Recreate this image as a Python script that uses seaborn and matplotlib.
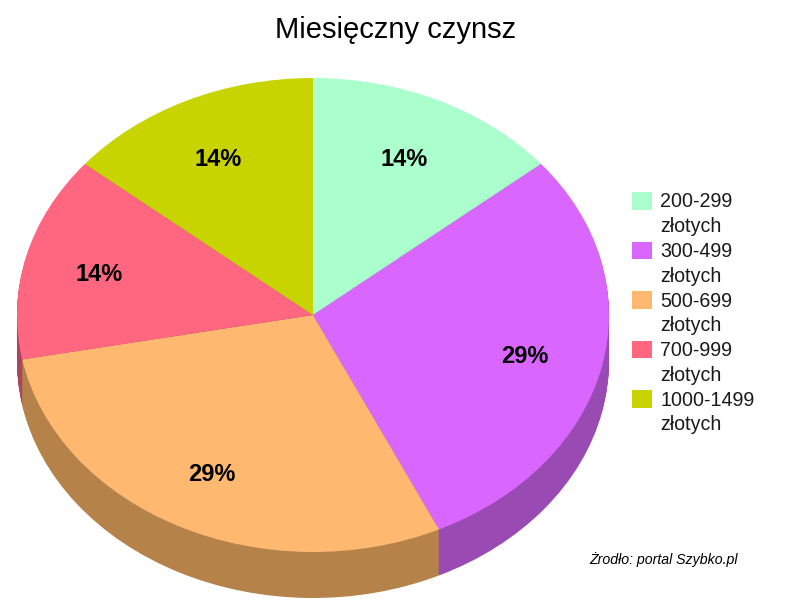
import matplotlib
matplotlib.use('Agg')
import matplotlib.pyplot as plt
from matplotlib.patches import Patch
import numpy as np
import seaborn as sns

# Dane
categories = ['200-299', '300-499', '500-699', '700-999', '1000-1499']
unit = 'złotych'
shares = [14, 29, 29, 14, 14]
colors = ['#aaffcc', '#d966ff', '#ffb870', '#ff6680', '#c8d400']
side_colors = ['#76b38e', '#9a4ab3', '#b5824a', '#a8465e', '#8c9400']

title = 'Miesięczny czynsz'
source = 'Żrodło: portal Szybko.pl'

sns.set_theme(style='white')
plt.rcParams['font.family'] = ['Liberation Sans', 'DejaVu Sans']

W, H = 788, 611
RX, RY = 296, 237      # elipsa w pikselach
CX, CY = 313, 315      # srodek elipsy
DEPTH = 46             # grubosc boku

fig = plt.figure(figsize=(W / 100, H / 100), dpi=100, facecolor='white')
ax = fig.add_axes([0, 0, 1, 1])

# Bok: stos ciemniejszych kol przesuwanych w dol
for off in np.arange(DEPTH, 0, -1):
    ax.pie(shares, colors=side_colors, startangle=90, counterclock=False,
           center=(0, -off / RY), wedgeprops={'linewidth': 0})

# Gorna powierzchnia
wedges, _, autotexts = ax.pie(shares, colors=colors, startangle=90, counterclock=False,
                              autopct='%.0f%%', pctdistance=0.74,
                              wedgeprops={'linewidth': 0},
                              textprops={'fontsize': 17, 'fontweight': 'bold', 'color': 'black'})
# Etykiety nieco nizej i w lewo
for t in autotexts:
    x, y = t.get_position()
    t.set_position((x - 2 / RX, y - 3 / RY))

# Rozciagniecie kola do elipsy: skala osi w pikselach
ax.set_aspect('auto')
ax.set_xlim(-CX / RX, (W - CX) / RX)
ax.set_ylim(-(H - CY) / RY, CY / RY)
ax.axis('off')

fig.text(396 / W, 1 - 30.5 / H, title, fontsize=21, ha='center', va='center', color='black')
fig.text(589 / W, 1 - 560 / H, source, fontsize=10.2, style='italic', ha='left', va='center', color='black')

# Legenda: kazdy wpis zajmuje dwa wiersze
handles = []
labels = []
for cat, col in zip(categories, colors):
    handles.append(Patch(facecolor=col, edgecolor='none'))
    labels.append(cat)
    handles.append(Patch(facecolor='none', edgecolor='none'))
    labels.append(unit)

leg = ax.legend(handles, labels, loc='upper left', bbox_to_anchor=(632 / W, 1 - 192 / H),
                bbox_transform=fig.transFigure, frameon=False, fontsize=14.1,
                handlelength=1.0, handleheight=1.0, handletextpad=0.45,
                labelspacing=0.27, borderpad=0, borderaxespad=0, labelcolor='#1a1a1a')

fig.savefig('out.png', dpi=100, facecolor='white')
